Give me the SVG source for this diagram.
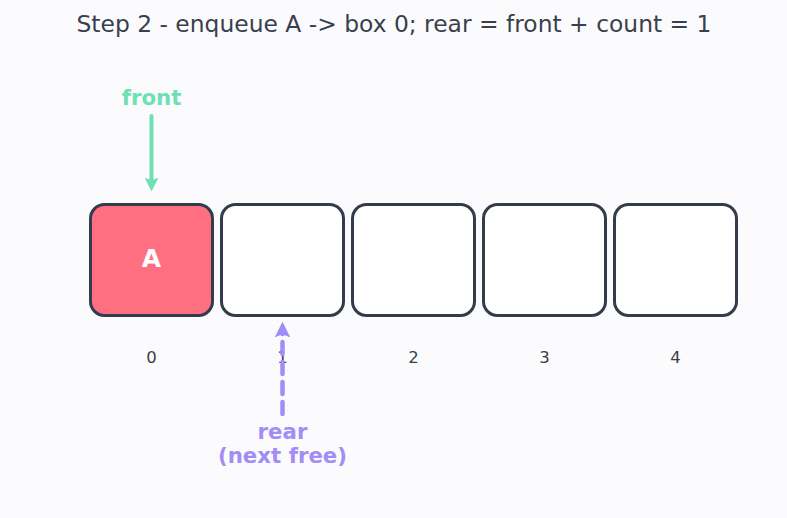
<svg xmlns="http://www.w3.org/2000/svg" width="787" height="518" viewBox="0 0 787 518">
<style>
.box{fill:#ffffff;stroke:#343c4c;stroke-width:3}
.idx{font-family:"DejaVu Sans",sans-serif;font-size:16.5px;fill:#3a3f4a;text-anchor:middle}
.title{font-family:"DejaVu Sans",sans-serif;font-size:23.4px;fill:#3a3f4d;text-anchor:middle}
.lbl{font-family:"DejaVu Sans",sans-serif;font-size:21.3px;font-weight:bold;text-anchor:middle}
</style>
<defs>
<marker id="ag" viewBox="0 0 10 10" refX="6" refY="5" markerWidth="3.5" markerHeight="3.5" orient="auto-start-reverse"><path d="M0,0 L10,5 L0,10 L2,5 z" fill="#6ee0b4"/></marker>
<marker id="ap" viewBox="0 0 10 10" refX="6" refY="5" markerWidth="3.5" markerHeight="3.5" orient="auto-start-reverse"><path d="M0,0 L10,5 L0,10 L2,5 z" fill="#a28cf5"/></marker>
</defs>
<rect width="787" height="518" fill="#fbfbfe"/>
<text class="title" x="394" y="32">Step 2 - enqueue A -&gt; box 0; rear = front + count = 1</text>
<g id="box0"><rect class="box" x="90.5" y="204.5" width="122" height="111" rx="14" style="fill:#ff6f82"/><text class="lbl" x="151.5" y="267" fill="#ffffff" style="font-size:25px">A</text></g>
<g id="box1"><rect class="box" x="221.5" y="204.5" width="122" height="111" rx="14"/></g>
<g id="box2"><rect class="box" x="352.5" y="204.5" width="122" height="111" rx="14"/></g>
<g id="box3"><rect class="box" x="483.5" y="204.5" width="122" height="111" rx="14"/></g>
<g id="box4"><rect class="box" x="614.5" y="204.5" width="122" height="111" rx="14"/></g>
<g id="indices">
<text class="idx" x="151.5" y="363">0</text>
<text class="idx" x="282.5" y="363">1</text>
<text class="idx" x="413.5" y="363">2</text>
<text class="idx" x="544.5" y="363">3</text>
<text class="idx" x="675.5" y="363">4</text>
</g>
<g id="connectors">
<line x1="151.5" y1="116" x2="151.5" y2="186" stroke="#6ee0b4" stroke-width="4" stroke-linecap="round" marker-end="url(#ag)"/>
<line x1="282.5" y1="414" x2="282.5" y2="328" stroke="#a28cf5" stroke-width="4.5" stroke-linecap="round" stroke-dasharray="12 8" marker-end="url(#ap)"/>
</g>
<g id="front"><text class="lbl" x="151.5" y="105" fill="#6ee0b4">front</text></g>
<g id="rear"><text class="lbl" x="282.5" y="439" fill="#a28cf5">rear</text><text class="lbl" x="282.5" y="463" fill="#a28cf5">(next free)</text></g>
</svg>
